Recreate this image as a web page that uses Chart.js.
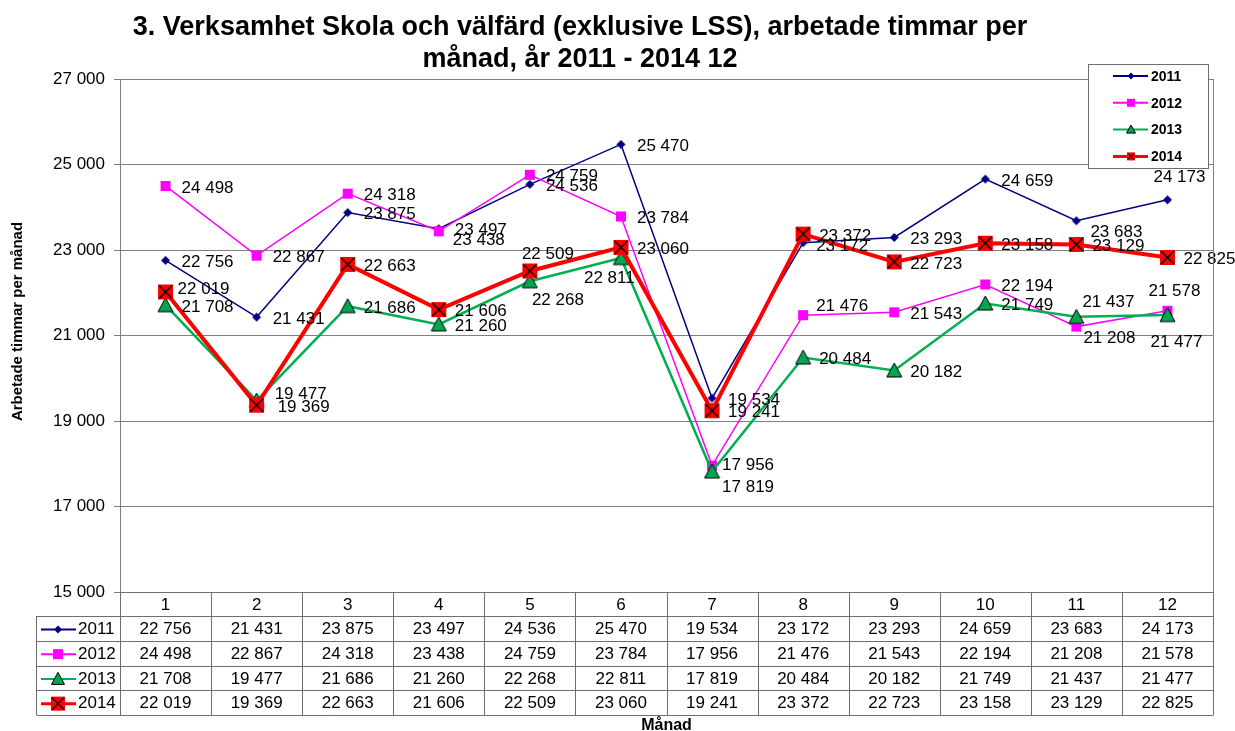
<!DOCTYPE html>
<html>
<head>
<meta charset="utf-8">
<script src="https://cdn.jsdelivr.net/npm/chart.js@4.4.1/dist/chart.umd.min.js"></script>
<style>
  html, body { margin: 0; padding: 0; background: #fff; }
  canvas { display: block; }
</style>
</head>
<body>
<canvas id="chart" width="1235" height="731"></canvas>
<script>
// Data
const months = ['1', '2', '3', '4', '5', '6', '7', '8', '9', '10', '11', '12'];
const years = ['2011', '2012', '2013', '2014'];
const hours2011 = [22756, 21431, 23875, 23497, 24536, 25470, 19534, 23172, 23293, 24659, 23683, 24173];
const hours2012 = [24498, 22867, 24318, 23438, 24759, 23784, 17956, 21476, 21543, 22194, 21208, 21578];
const hours2013 = [21708, 19477, 21686, 21260, 22268, 22811, 17819, 20484, 20182, 21749, 21437, 21477];
const hours2014 = [22019, 19369, 22663, 21606, 22509, 23060, 19241, 23372, 22723, 23158, 23129, 22825];
const yMin = 15000;
const yMax = 27000;
const yStep = 2000;

const titleLines = ['3. Verksamhet Skola och välfärd (exklusive LSS), arbetade timmar per', 'månad, år 2011 - 2014 12'];
const yTitle = 'Arbetade timmar per månad';
const FONT = '"Liberation Sans", Arial, sans-serif';

// Format numbers with space as thousands separator
function fmt(v) {
    return String(v).replace(/\B(?=(\d{3})+(?!\d))/g, ' ');
}

// Marker drawing (shared by points, legend and table)
function drawMarker(ctx, kind, x, y, s) {
    ctx.save();
    if (kind === 'diamond') {
        ctx.fillStyle = '#000080';
        ctx.beginPath();
        ctx.moveTo(x, y - s / 2); ctx.lineTo(x + s / 2, y); ctx.lineTo(x, y + s / 2); ctx.lineTo(x - s / 2, y);
        ctx.closePath(); ctx.fill();
    } else if (kind === 'square') {
        ctx.fillStyle = '#ff00ff';
        ctx.fillRect(x - s / 2, y - s / 2, s, s);
    } else if (kind === 'triangle') {
        ctx.fillStyle = '#00a650';
        ctx.strokeStyle = '#000';
        ctx.lineWidth = 1;
        ctx.beginPath();
        ctx.moveTo(x, y - s / 2); ctx.lineTo(x + s / 2, y + s / 2 - 1); ctx.lineTo(x - s / 2, y + s / 2 - 1);
        ctx.closePath(); ctx.fill(); ctx.stroke();
    } else if (kind === 'xsquare') {
        ctx.fillStyle = '#ff0000';
        ctx.fillRect(x - s / 2, y - s / 2, s, s);
        ctx.strokeStyle = '#000';
        ctx.lineWidth = s > 10 ? 1.4 : 1;
        const d = s / 2 - 1;
        ctx.beginPath();
        ctx.moveTo(x - d, y - d); ctx.lineTo(x + d, y + d);
        ctx.moveTo(x + d, y - d); ctx.lineTo(x - d, y + d);
        ctx.stroke();
    }
    ctx.restore();
}

function markerCanvas(kind, s) {
    const c = document.createElement('canvas');
    c.width = s + 2;
    c.height = s + 2;
    drawMarker(c.getContext('2d'), kind, (s + 2) / 2, (s + 2) / 2, s);
    return c;
}

const seriesStyle = [
    { color: '#000080', width: 1.5, marker: 'diamond', size: 9, legendSize: 7, tableSize: 8 },
    { color: '#ff00ff', width: 1.5, marker: 'square', size: 10, legendSize: 8, tableSize: 10 },
    { color: '#00b050', width: 2.5, marker: 'triangle', size: 15, legendSize: 9, tableSize: 13 },
    { color: '#ff0000', width: 4, marker: 'xsquare', size: 15, legendSize: 8, tableSize: 14 }
];

// Manual label nudges, like the hand-placed labels of the original: [dx, dy]
const labelShift = {
    '0-7': [13, 4], '0-10': [14, 12], '0-11': [-14, -23],
    '1-3': [14, 9], '1-6': [10, 0], '1-7': [13, -9], '1-10': [7, 12], '1-11': [-19, -19],
    '2-1': [18, -6], '2-4': [2, 19], '2-5': [-37, 20], '2-6': [10, 16], '2-10': [6, -15], '2-11': [-17, 27],
    '3-0': [12, -3], '3-1': [21, 2], '3-4': [-8, -17]
};

const dataLabels = {
    id: 'dataLabels',
    afterDatasetsDraw(chart) {
        const ctx = chart.ctx;
        ctx.save();
        ctx.font = '17px ' + FONT;
        ctx.fillStyle = '#000';
        ctx.textBaseline = 'middle';
        ctx.textAlign = 'left';
        chart.data.datasets.forEach((ds, di) => {
            chart.getDatasetMeta(di).data.forEach((pt, i) => {
                const sh = labelShift[di + '-' + i] || [16, 2];
                ctx.fillText(fmt(ds.data[i]), pt.x + sh[0], pt.y + sh[1]);
            });
        });
        ctx.restore();
    }
};

const decorations = {
    id: 'decorations',
    afterDraw(chart) {
        const ctx = chart.ctx;
        const area = chart.chartArea;
        const x = chart.scales.x;
        const colW = (x.right - x.left) / months.length;
        ctx.save();

        // Title
        ctx.fillStyle = '#000';
        ctx.font = 'bold 27px ' + FONT;
        ctx.textAlign = 'center';
        ctx.textBaseline = 'alphabetic';
        ctx.fillText(titleLines[0], 580, 35);
        ctx.fillText(titleLines[1], 580, 67);

        // Y axis title (sits a bit above the plot centre in the original)
        ctx.save();
        ctx.translate(18, area.top + (area.bottom - area.top) / 2 - 14);
        ctx.rotate(-Math.PI / 2);
        ctx.font = 'bold 15px ' + FONT;
        ctx.textBaseline = 'middle';
        ctx.fillText(yTitle, 0, 0);
        ctx.restore();

        // Right frame of plot
        ctx.strokeStyle = '#808080';
        ctx.lineWidth = 1;
        ctx.beginPath();
        ctx.moveTo(area.right + 0.5, area.top);
        ctx.lineTo(area.right + 0.5, area.bottom);
        ctx.stroke();

        // Data table
        const tableLeft = 36.5;
        const headTop = area.bottom;
        const headH = 24;
        const rowH = 24.75;
        const rowsTop = headTop + headH;
        const tableBottom = rowsTop + rowH * years.length;
        ctx.strokeStyle = '#6e6e6e';
        ctx.beginPath();
        for (let c = 0; c <= months.length; c++) {
            const cx = Math.round(x.left + c * colW) + 0.5;
            ctx.moveTo(cx, headTop);
            ctx.lineTo(cx, tableBottom);
        }
        ctx.moveTo(tableLeft, rowsTop);
        ctx.lineTo(tableLeft, tableBottom);
        for (let r = 0; r <= years.length; r++) {
            const ry = Math.round(rowsTop + r * rowH) + 0.5;
            ctx.moveTo(tableLeft, ry);
            ctx.lineTo(x.right + 0.5, ry);
        }
        ctx.stroke();

        ctx.font = '17px ' + FONT;
        ctx.textBaseline = 'middle';
        chart.data.datasets.forEach((ds, di) => {
            const st = seriesStyle[di];
            const cy = rowsTop + rowH * (di + 0.5) + 1;
            ctx.strokeStyle = st.color;
            ctx.lineWidth = Math.max(2, st.width - 1);
            ctx.beginPath();
            ctx.moveTo(41, cy);
            ctx.lineTo(76, cy);
            ctx.stroke();
            drawMarker(ctx, st.marker, 58, cy, st.tableSize);
            ctx.textAlign = 'left';
            ctx.fillStyle = '#000';
            ctx.fillText(ds.label, 78, cy);
            ctx.textAlign = 'center';
            ds.data.forEach((v, i) => {
                ctx.fillText(fmt(v), x.getPixelForValue(i), cy);
            });
        });

        // Legend box
        const lx = area.right - 125;
        const ly = area.top - 15;
        const lw = 120;
        const lh = 104;
        ctx.fillStyle = '#fff';
        ctx.fillRect(lx, ly, lw, lh);
        ctx.strokeStyle = '#6e6e6e';
        ctx.lineWidth = 1;
        ctx.strokeRect(lx + 0.5, ly + 0.5, lw, lh);
        ctx.font = 'bold 14px ' + FONT;
        ctx.textAlign = 'left';
        chart.data.datasets.forEach((ds, di) => {
            const st = seriesStyle[di];
            const iy = ly + 12 + di * 26.8;
            ctx.strokeStyle = st.color;
            ctx.lineWidth = Math.max(2, st.width - 1);
            ctx.beginPath();
            ctx.moveTo(lx + 25, iy);
            ctx.lineTo(lx + 60, iy);
            ctx.stroke();
            drawMarker(ctx, st.marker, lx + 43, iy, st.legendSize);
            ctx.fillStyle = '#000';
            ctx.fillText(ds.label, lx + 63, iy + 1);
        });

        ctx.restore();
    }
};

const seriesData = [hours2011, hours2012, hours2013, hours2014];

new Chart(document.getElementById('chart'), {
    type: 'line',
    data: {
        labels: months,
        datasets: years.map((y, i) => ({
            label: y,
            data: seriesData[i],
            borderColor: seriesStyle[i].color,
            backgroundColor: seriesStyle[i].color,
            borderWidth: seriesStyle[i].width,
            pointStyle: markerCanvas(seriesStyle[i].marker, seriesStyle[i].size),
            pointRadius: 6,
            tension: 0,
            order: years.length - i
        }))
    },
    options: {
        responsive: false,
        animation: false,
        devicePixelRatio: 1,
        layout: { padding: { left: 0, right: 22, top: 79, bottom: 0 } },
        plugins: {
            legend: { display: false },
            tooltip: { enabled: false },
            title: { display: false }
        },
        scales: {
            x: {
                offset: true,
                afterFit(scale) { scale.height = 139; },
                grid: { display: false },
                border: { display: true, color: '#6e6e6e' },
                ticks: { color: '#000', font: { family: FONT, size: 17 }, padding: -5, maxRotation: 0 },
                title: {
                    display: true,
                    text: 'Månad',
                    color: '#000',
                    font: { family: FONT, size: 16, weight: 'bold', lineHeight: 1 },
                    padding: { top: 0, bottom: -3 }
                }
            },
            y: {
                min: yMin,
                max: yMax,
                afterFit(scale) { scale.width = 120; },
                ticks: {
                    stepSize: yStep,
                    color: '#000',
                    font: { family: FONT, size: 17 },
                    padding: 9,
                    callback: v => fmt(v)
                },
                grid: { color: '#808080', tickLength: 6 },
                border: { color: '#808080' },
                title: { display: false }
            }
        }
    },
    plugins: [dataLabels, decorations]
});
</script>
</body>
</html>
